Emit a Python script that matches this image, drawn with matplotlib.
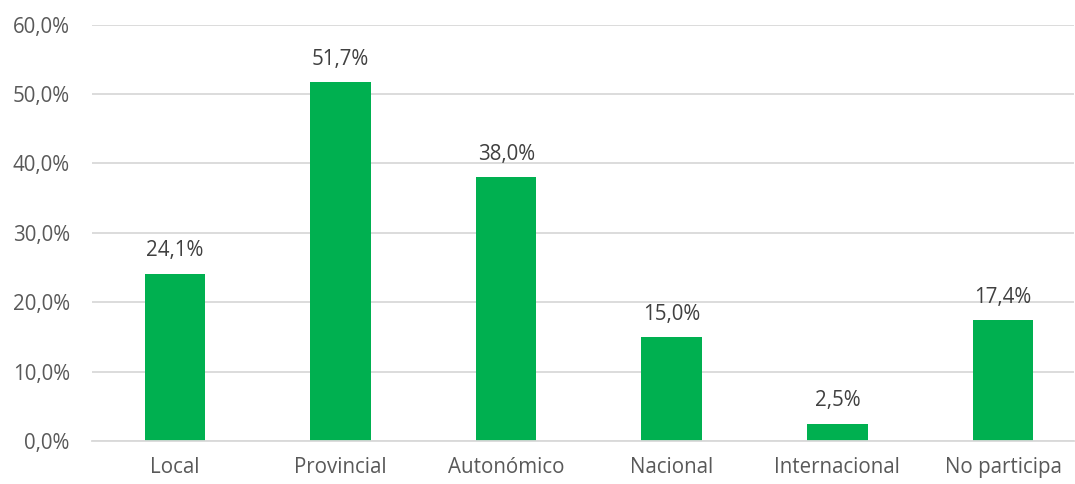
import matplotlib
matplotlib.use("Agg")
import matplotlib.pyplot as plt

categories = ["Local", "Provincial", "Autonómico", "Nacional", "Internacional", "No participa"]
values = [24.1, 51.7, 38.0, 15.0, 2.5, 17.4]
yticks = [0, 10, 20, 30, 40, 50, 60]

plt.rcParams['font.family'] = ['Open Sans', 'DejaVu Sans']
fig = plt.figure(figsize=(10.75, 4.84), dpi=100)
ax = fig.add_axes([92 / 1075, 43 / 484, 982 / 1075, 416.5 / 484])

x = list(range(len(categories)))
ax.bar(x, values, width=0.366, color="#00B050", zorder=3)
for xi, v in zip(x, values):
    ax.annotate(f"{v:.1f}".replace(".", ",") + "%", (xi, v), xytext=(0, 12.5),
                textcoords="offset points", ha="center", va="baseline",
                fontsize=14.8, color="#404040")

ax.set_ylim(0, 60)
ax.set_xlim(-0.501, 5.429)
ax.set_yticks(yticks)
ax.set_yticklabels([f"{t:.1f}".replace(".", ",") + "%" for t in yticks], fontsize=14.8, color="#595959")
ax.set_xticks(x)
ax.set_xticklabels(categories, fontsize=14.8, color="#595959")
ax.yaxis.grid(True, color="#D9D9D9", linewidth=1.3, zorder=0)
ax.tick_params(axis="y", length=0, pad=16)
ax.tick_params(axis="x", length=0, pad=11.5)
for s in ["top", "right", "left"]:
    ax.spines[s].set_visible(False)
ax.spines["bottom"].set_color("#D9D9D9")
ax.spines["bottom"].set_linewidth(1.3)
ax.spines["bottom"].set_zorder(4)

fig.savefig("out.png", dpi=100)
